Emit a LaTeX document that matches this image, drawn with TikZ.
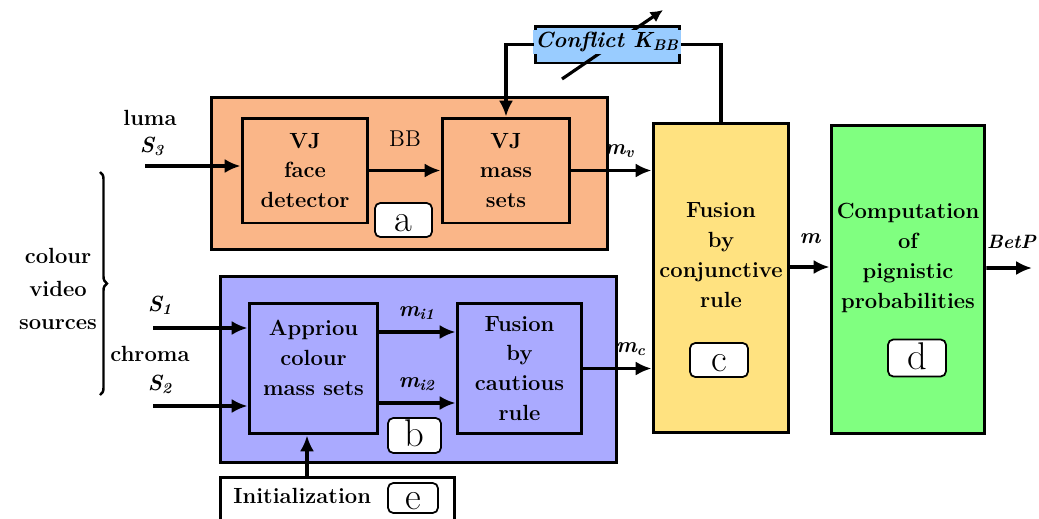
\documentclass[tikz,border=0pt]{standalone}
\usetikzlibrary{arrows.meta,decorations.pathreplacing}

\definecolor{saumon}{RGB}{250, 182, 136}
\definecolor{lavande}{RGB}{170, 170, 255}
\definecolor{ciel}{RGB}{153, 204, 255}
\definecolor{jaune}{RGB}{255, 226, 128}
\definecolor{vert}{RGB}{128, 255, 128}

\tikzset{
  bloc/.style={draw, line width=1.7pt, inner sep=0pt},
  txt/.style={font=\fontsize{12.5}{17}\selectfont\bfseries, align=center, inner sep=0pt},
  ital/.style={font=\fontsize{12.5}{17}\selectfont\bfseries\itshape},
  lettre/.style={draw, fill=white, rounded corners=3pt, line width=1pt, inner sep=0pt,
    text height=14pt, text depth=1pt, font=\fontsize{22}{22}\selectfont},
  fleche/.style={line width=2.2pt, -{Latex[length=9pt, width=8pt]}},
  lien/.style={line width=2.2pt},
}

\begin{document}
\begin{tikzpicture}[x=0.02cm, y=-0.02cm]
  \useasboundingbox (0, 0) rectangle (1039, 518);
  \clip (0, 0) rectangle (1039, 518);
  % outer blocks
  \node[bloc, fill=saumon, minimum width=7.94cm, minimum height=3.06cm] (blocA) at (409.5, 173.5) {};
  \node[bloc, fill=lavande, minimum width=7.94cm, minimum height=3.74cm] (blocB) at (418.5, 369.5) {};
  \node[bloc, fill=white, minimum width=4.7cm, minimum height=1.06cm] (init) at (337.5, 503.5) {};
  \node[bloc, fill=jaune, minimum width=2.72cm, minimum height=6.2cm] (fusc) at (721, 278) {};
  \node[bloc, fill=vert, minimum width=3.08cm, minimum height=6.18cm] (comp) at (908, 279.5) {};
  % inner blocks
  \node[bloc, txt, minimum width=2.52cm, minimum height=2.1cm] (vjfd) at (305, 170.5) {VJ\\face\\detector};
  \node[bloc, txt, minimum width=2.56cm, minimum height=2.1cm] (vjms) at (506, 170.5) {VJ\\mass\\sets};
  \node[bloc, minimum width=2.58cm, minimum height=2.62cm] (appr) at (313.5, 368.5) {};
  \node[bloc, txt, minimum width=2.5cm, minimum height=2.62cm] (fcaut) at (519.5, 368.5) {Fusion\\by\\cautious\\rule};
  % texts
  \node[txt] (apprT) at (313.5, 358) {Appriou\\colour\\mass sets};
  \node[txt] (fuscT) at (721, 255) {Fusion\\by\\conjunctive\\rule};
  \node[txt] (compT) at (908, 258) {Computation\\of\\pignistic\\probabilities};
  \node[txt, anchor=west] (initT) at (233, 496) {Initialization};
  % letters
  \node[lettre, minimum width=1.14cm, minimum height=0.68cm] (labA) at (403.5, 220) {a};
  \node[lettre, minimum width=1.06cm, minimum height=0.7cm] (labB) at (414.5, 435.5) {b};
  \node[lettre, minimum width=1.16cm, minimum height=0.68cm] (labC) at (719, 360) {c};
  \node[lettre, minimum width=1.16cm, minimum height=0.74cm] (labD) at (917, 358) {d};
  \node[lettre, minimum width=1cm, minimum height=0.6cm] (labE) at (413, 498) {e};
  % conflict
  \node[bloc, fill=ciel, minimum width=2.9cm, minimum height=0.74cm] (conflit) at (607.5, 44.5) {};
  \coordinate (diagA) at (562, 79);
  \coordinate (diagB) at (663, 10);
  \draw[line width=1.8pt, -{Latex[length=7pt, width=7pt]}] (diagA) -- (diagB);
  \node[txt, ital, fill=ciel, inner sep=1pt] (conflitT) at (607, 42) {Conflict K\textsubscript{BB}};
  % inputs
  \coordinate (s3) at (145, 166);
  \coordinate (s1) at (153, 328);
  \coordinate (s2) at (153, 406);
  \coordinate (betp) at (1032, 268);
  \coordinate (axeInit) at (307, 0);
  \node[txt] (luma) at (150, 118) {luma};
  \node[txt, ital] (s3T) at (152, 146) {S\textsubscript{3}};
  \node[txt, ital] (s1T) at (160, 305) {S\textsubscript{1}};
  \node[txt] (chroma) at (150, 354) {chroma};
  \node[txt, ital] (s2T) at (160, 384) {S\textsubscript{2}};
  \node[txt, font=\fontsize{12.5}{19}\selectfont\bfseries] (sources) at (58, 289) {colour\\video\\sources};
  \draw[line width=1.4pt, decorate, decoration={brace, amplitude=0.14cm}] (100, 172) -- (100, 395);
  % connectors
  \draw[fleche] (s3) -- (s3 -| vjfd.west);
  \draw[fleche] (vjfd.east) -- (vjms.west) node[midway, above=9pt, font=\fontsize{13}{17}\selectfont] (bb) {BB};
  \draw[fleche] (vjms.east) -- (vjms.east -| fusc.west) node[pos=0.6, above=6pt, txt, ital] (mv) {m\textsubscript{v}};
  \draw[fleche] (conflit.west) -| (vjms.north);
  \draw[lien] (conflit.east) -| (fusc.north);
  \draw[fleche] (s1) -- (s1 -| appr.west);
  \draw[fleche] (s2) -- (s2 -| appr.west);
  \coordinate (mi1) at (378, 332);
  \coordinate (mi2) at (378, 403);
  \draw[fleche] (mi1) -- (mi1 -| fcaut.west) node[midway, above=6pt, txt, ital] (mi1T) {m\textsubscript{i1}};
  \draw[fleche] (mi2) -- (mi2 -| fcaut.west) node[midway, above=6pt, txt, ital] (mi2T) {m\textsubscript{i2}};
  \draw[fleche] (fcaut.east) -- (fcaut.east -| fusc.west) node[pos=0.7, above=6pt, txt, ital] (mcT) {m\textsubscript{c}};
  \draw[fleche] (init.north -| axeInit) -- (appr.south -| axeInit);
  \draw[fleche] ([yshift=0.22cm]fusc.east) -- ([yshift=0.22cm]fusc.east -| comp.west) node[midway, above=12pt, txt, ital] (mT) {m};
  \draw[fleche] ([yshift=0.23cm]comp.east) -- (betp) node[pos=0.55, above=10pt, txt, font=\fontsize{11}{13}\selectfont\bfseries\itshape] (betpT) {BetP};
\end{tikzpicture}
\end{document}
